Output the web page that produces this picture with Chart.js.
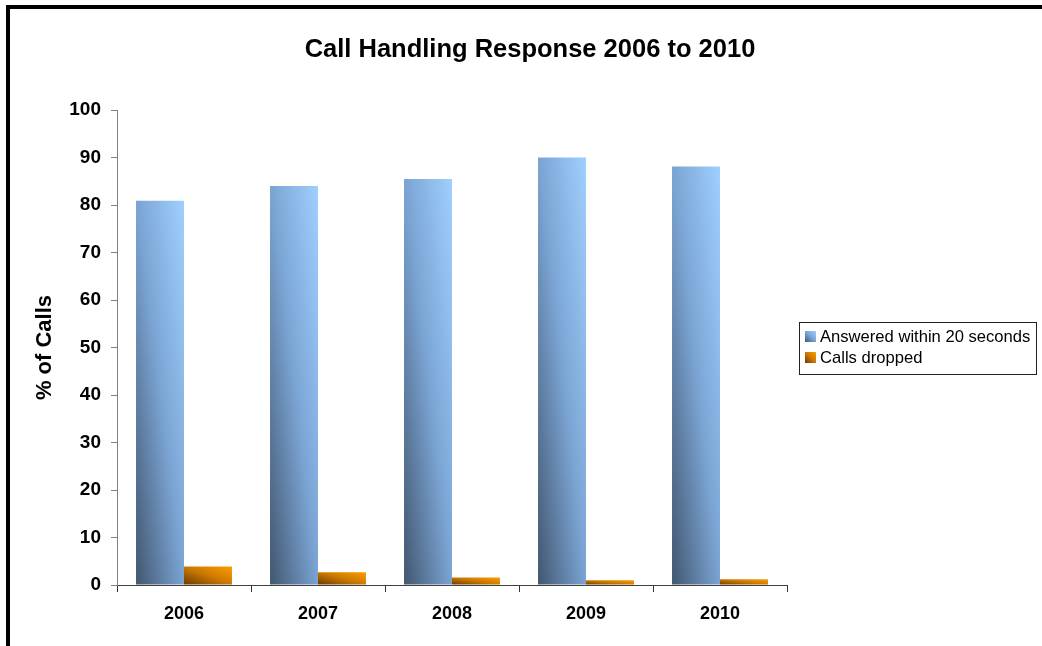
<!DOCTYPE html>
<html>
<head>
<meta charset="utf-8">
<script src="https://cdn.jsdelivr.net/npm/chart.js@4.4.1/dist/chart.umd.min.js"></script>
<style>
  html, body { margin: 0; padding: 0; width: 1042px; height: 646px; overflow: hidden; background: #fff; }
  body { position: relative; font-family: "Liberation Sans", Arial, Helvetica, sans-serif; }
  #frame { position: absolute; left: 6px; top: 5px; width: 3000px; height: 3000px; border: 4px solid #000; box-sizing: border-box; }
  #wrap { position: absolute; left: 0; top: 0; width: 1042px; height: 646px; }
  #title { position: absolute; left: 0; width: 1060px; top: 33px; text-align: center; font-weight: bold; font-size: 25.5px; line-height: 30px; color: #000; white-space: nowrap; }
  #legend { position: absolute; left: 799px; top: 322px; width: 236px; height: 48px; border: 1px solid #222; padding-top: 3px; box-sizing: content-box; }
  #legend .row { position: relative; height: 21px; line-height: 21px; font-size: 16.6px; color: #000; padding-left: 20px; white-space: nowrap; }
  #legend .mk { position: absolute; left: 5px; top: 5px; width: 11px; height: 11px; }
</style>
</head>
<body>
<div id="frame"></div>
<div id="wrap"><canvas id="c" width="1042" height="646"></canvas></div>
<div id="title"></div>
<div id="legend"></div>
<script>
const titleText = "Call Handling Response 2006 to 2010";
const yAxisTitle = "% of Calls";
const categories = ["2006", "2007", "2008", "2009", "2010"];
const seriesNames = ["Answered within 20 seconds", "Calls dropped"];
const answeredWithin20s = [80.9, 84.0, 85.5, 90.0, 88.1];
const callsDropped = [3.9, 2.7, 1.6, 1.0, 1.2];
const yTicks = [0, 10, 20, 30, 40, 50, 60, 70, 80, 90, 100];

const CAT_PCT = 0.716;
const gradStops = [
  [[0, "#42566f"], [0.5, "#7aa3d2"], [1, "#9fd0ff"]],
  [[0, "#6a3800"], [0.5, "#c97800"], [1, "#ff9d00"]]
];
const fallback = ["#7aa3d2", "#e08800"];

function barGradient(ctx) {
  const chart = ctx.chart;
  const ca = chart.chartArea;
  const ds = ctx.datasetIndex;
  if (!ca || ctx.type !== "data") return fallback[ds] || "#888";
  const xs = chart.scales.x, ys = chart.scales.y;
  const n = categories.length;
  const catW = xs.width / n;
  const groupW = catW * CAT_PCT;
  const bw = groupW / 2;
  const center = xs.getPixelForValue(ctx.dataIndex);
  const left = center - groupW / 2 + ds * bw;
  const v = ctx.raw;
  const top = ys.getPixelForValue(v);
  const bottom = ys.getPixelForValue(0);
  const w = bw, h = Math.max(bottom - top, 1);
  const k = 2 / (1 / (w * w) + 1 / (h * h));
  const x0 = left, y0 = bottom;
  const x1 = x0 + k / w, y1 = y0 - k / h;
  const g = chart.ctx.createLinearGradient(x0, y0, x1, y1);
  gradStops[ds].forEach(s => g.addColorStop(s[0], s[1]));
  return g;
}

document.getElementById("title").textContent = titleText;
const legendEl = document.getElementById("legend");
const mkCss = [
  "linear-gradient(to top right, #42566f, #7aa3d2 50%, #9fd0ff)",
  "linear-gradient(to top right, #6a3800, #c97800 50%, #ff9d00)"
];
seriesNames.forEach((name, i) => {
  const row = document.createElement("div");
  row.className = "row";
  const mk = document.createElement("span");
  mk.className = "mk";
  mk.style.background = mkCss[i];
  row.appendChild(mk);
  row.appendChild(document.createTextNode(name));
  legendEl.appendChild(row);
});

const FONT = '"Liberation Sans", Arial, Helvetica, sans-serif';

new Chart(document.getElementById("c"), {
  type: "bar",
  data: {
    labels: categories,
    datasets: [
      { label: seriesNames[0], data: answeredWithin20s, backgroundColor: barGradient, borderWidth: 0 },
      { label: seriesNames[1], data: callsDropped, backgroundColor: barGradient, borderWidth: 0 }
    ]
  },
  options: {
    responsive: false,
    animation: false,
    devicePixelRatio: 1,
    categoryPercentage: CAT_PCT,
    barPercentage: 1.0,
    layout: { padding: { left: 10, right: 255, top: 110, bottom: 0 } },
    plugins: {
      legend: { display: false },
      title: { display: false },
      tooltip: { enabled: false }
    },
    scales: {
      x: {
        afterFit: (s) => { s.height = 61; },
        grid: { offset: true, drawOnChartArea: false, tickLength: 7, color: "#333" },
        border: { color: "#404040", width: 1 },
        ticks: { color: "#000", padding: 11, font: { family: FONT, size: 18, weight: "bold" } }
      },
      y: {
        min: 0,
        max: 100,
        afterFit: (s) => { s.width = 107; },
        afterBuildTicks: (s) => { s.ticks = yTicks.map(v => ({ value: v })); },
        grid: { drawOnChartArea: false, tickLength: 6, color: "#808080" },
        border: { color: "#808080", width: 1 },
        ticks: { color: "#000", padding: 10, font: { family: FONT, size: 19, weight: "bold" } },
        title: { display: true, text: yAxisTitle, color: "#000", padding: { top: 22, bottom: 0 }, font: { family: FONT, size: 22, weight: "bold" } }
      }
    }
  }
});
</script>
</body>
</html>
